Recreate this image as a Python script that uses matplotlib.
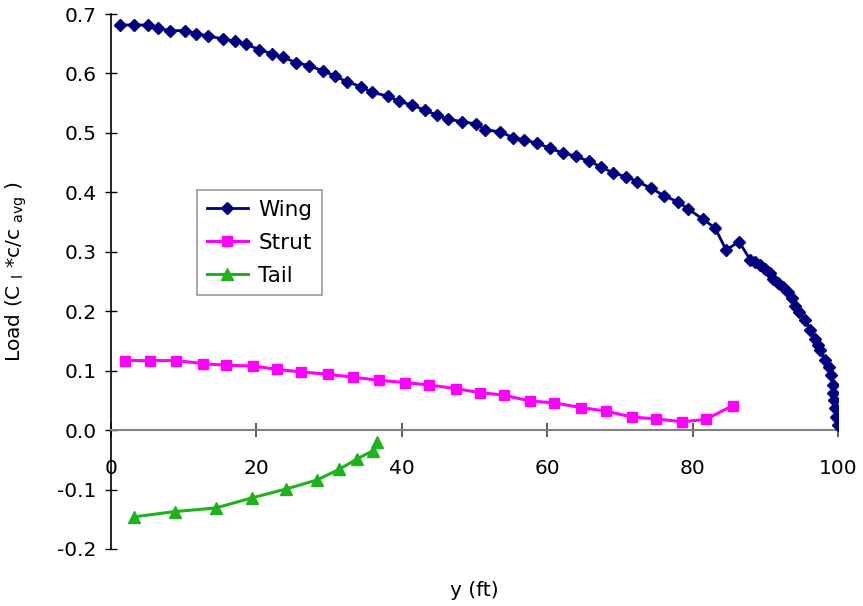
import matplotlib
matplotlib.use("Agg")
import matplotlib.pyplot as plt

# Spanwise load distributions
wing_y = [1.3, 3.1, 5.1, 6.5, 8.1, 10.2, 11.7, 13.4, 15.4, 17.1, 18.6, 20.4, 22.2, 23.7,
          25.5, 27.3, 29.2, 30.8, 32.4, 34.4, 35.9, 38.1, 39.6, 41.4, 43.2, 44.8, 46.4,
          48.3, 50.2, 51.5, 53.5, 55.3, 56.8, 58.6, 60.4, 62.2, 63.9, 65.8, 67.4, 69.0,
          70.9, 72.4, 74.3, 76.1, 78.0, 79.4, 81.4, 83.1, 84.6, 86.4, 87.9, 88.6, 89.3,
          90.0, 90.6, 91.1, 91.8, 92.5, 93.1, 93.7, 94.1, 94.7, 95.5, 96.2, 96.8, 97.3,
          97.5, 98.2, 98.7, 99.0, 99.3, 99.35, 99.45, 99.6, 99.7, 100.0]
wing_load = [0.681, 0.682, 0.681, 0.676, 0.672, 0.672, 0.667, 0.663, 0.658, 0.654, 0.649,
             0.640, 0.633, 0.627, 0.618, 0.613, 0.604, 0.596, 0.586, 0.578, 0.568, 0.562,
             0.553, 0.547, 0.538, 0.530, 0.523, 0.519, 0.515, 0.505, 0.502, 0.492, 0.488,
             0.483, 0.474, 0.466, 0.461, 0.452, 0.443, 0.433, 0.426, 0.418, 0.407, 0.394,
             0.384, 0.372, 0.355, 0.340, 0.303, 0.317, 0.287, 0.283, 0.278, 0.271, 0.264,
             0.255, 0.248, 0.241, 0.233, 0.222, 0.208, 0.199, 0.185, 0.168, 0.154, 0.143,
             0.135, 0.118, 0.107, 0.093, 0.076, 0.062, 0.051, 0.037, 0.022, 0.008]

strut_y = [1.9, 5.4, 8.9, 12.6, 15.8, 19.5, 22.9, 26.1, 29.8, 33.3, 36.8, 40.4, 43.7,
           47.4, 50.7, 54.0, 57.6, 60.9, 64.6, 68.1, 71.6, 74.9, 78.6, 81.8, 85.5]
strut_load = [0.117, 0.117, 0.117, 0.112, 0.109, 0.108, 0.102, 0.098, 0.094, 0.089,
              0.084, 0.080, 0.076, 0.070, 0.063, 0.059, 0.049, 0.046, 0.038, 0.032,
              0.022, 0.019, 0.014, 0.018, 0.041]

tail_y = [3.1, 8.8, 14.4, 19.4, 24.1, 28.3, 31.4, 33.9, 36.0, 36.6]
tail_load = [-0.146, -0.137, -0.131, -0.114, -0.099, -0.084, -0.066, -0.048, -0.035, -0.020]

x_ticks = [0, 20, 40, 60, 80, 100]
y_ticks = [-0.2, -0.1, 0.0, 0.1, 0.2, 0.3, 0.4, 0.5, 0.6, 0.7]

plt.rcParams['font.family'] = ['DejaVu Sans']
plt.rcParams['mathtext.fontset'] = 'dejavusans'

W, H = 863, 606
fig = plt.figure(figsize=(W / 100, H / 100), dpi=100)
ax = fig.add_axes([111 / W, 1 - 549 / H, 727 / W, 535 / H])

ax.plot(wing_y, wing_load, color='#000080', lw=2.0, marker='D', ms=6.0,
        mec='#000080', mfc='#000080', label='Wing', zorder=3)
ax.plot(strut_y, strut_load, color='#FF00FF', lw=2.2, marker='s', ms=7.5,
        mec='#FF00FF', mfc='#FF00FF', label='Strut', zorder=3)
ax.plot(tail_y, tail_load, color='#1DB31D', lw=2.2, marker='^', ms=8.5,
        mec='#1DB31D', mfc='#1DB31D', label='Tail', zorder=3)

ax.set_xlim(0, 100)
ax.set_ylim(-0.2, 0.7)
ax.set_xticks(x_ticks)
ax.set_yticks(y_ticks)
ax.set_xticklabels([str(v) for v in x_ticks])
ax.set_yticklabels(['%.1f' % v for v in y_ticks])

ax.spines['top'].set_visible(False)
ax.spines['right'].set_visible(False)
ax.spines['bottom'].set_position(('data', 0))
ax.spines['bottom'].set_color('#808080')
ax.spines['bottom'].set_linewidth(1.5)
ax.spines['left'].set_color('black')
ax.spines['left'].set_linewidth(1.2)

ax.tick_params(axis='x', direction='inout', length=10, width=1.2, color='#404040',
               labelsize=14.5, pad=16)
ax.tick_params(axis='y', direction='inout', length=9, width=1.0, color='black',
               labelsize=14.5, pad=6)

fig.text(474 / W, 1 - 591 / H, 'y (ft)', fontsize=14.5, ha='center', va='center')
fig.text(16 / W, 1 - 272 / H,
         r'Load (C $_{\mathregular{l}}$ *c/c $_{\mathregular{avg}}$ )',
         fontsize=14.5, rotation=90, ha='center', va='center')

leg = ax.legend(loc='upper left', bbox_to_anchor=(86 / 727, (549 - 190) / 535),
                borderaxespad=0, fontsize=15.5, frameon=True, fancybox=False,
                handlelength=1.9, handletextpad=0.5, labelspacing=0.6, borderpad=0.45)
leg.get_frame().set_edgecolor('#808080')
leg.get_frame().set_linewidth(1.2)

fig.savefig('out.png', dpi=100)
